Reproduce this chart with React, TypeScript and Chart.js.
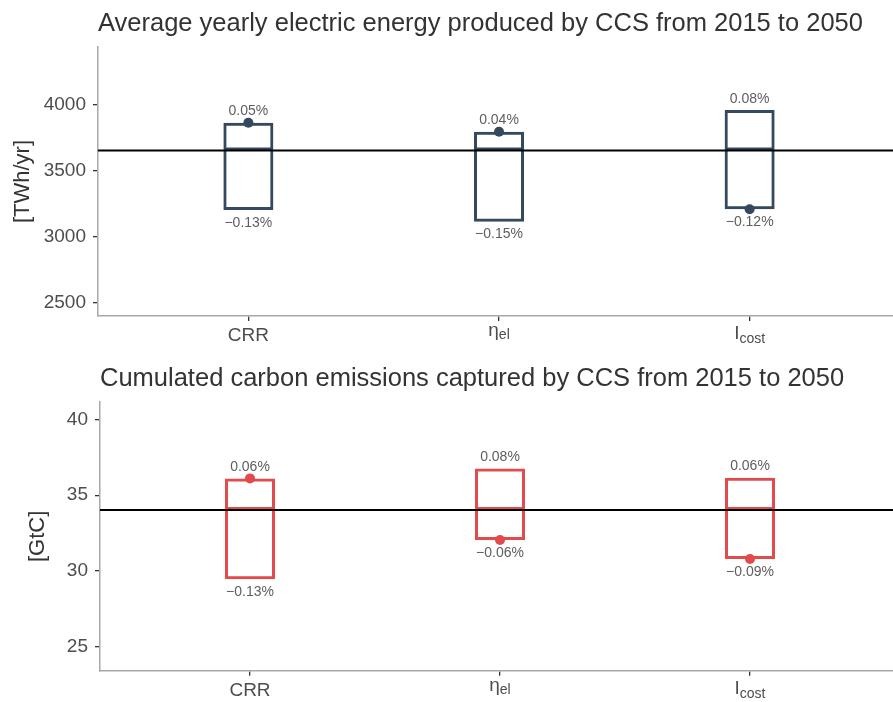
import React, { useEffect, useRef } from "react";
import { Chart, registerables } from "chart.js";

Chart.register(...registerables);

// ---------- data ----------
const X_POS = [1, 2, 3];
const LABEL_MAIN = ["CRR", "η", "I"];
const LABEL_SUB = ["", "el", "cost"];
const X_MIN = 0.4;
const X_MAX = 3.572;

const ENERGY_TITLE = "Average yearly electric energy produced by CCS from 2015 to 2050";
const ENERGY_UNIT = "[TWh/yr]";
const ENERGY_LOW = [3203, 3115, 3209];
const ENERGY_HIGH = [3866, 3797, 3962];
const ENERGY_POINT = [3866, 3797, 3209];
const ENERGY_REF = 3655;
const ENERGY_LOW_LABEL = ["−0.13%", "−0.15%", "−0.12%"];
const ENERGY_HIGH_LABEL = ["0.05%", "0.04%", "0.08%"];
const ENERGY_TICKS = [2500, 3000, 3500, 4000];
const ENERGY_MIN = 2400;
const ENERGY_MAX = 4440;

const CARBON_TITLE = "Cumulated carbon emissions captured by CCS from 2015 to 2050";
const CARBON_UNIT = "[GtC]";
const CARBON_LOW = [29.45, 32.04, 30.79];
const CARBON_HIGH = [36.11, 36.77, 36.15];
const CARBON_POINT = [36.11, 32.04, 30.79];
const CARBON_REF = 34.02;
const CARBON_LOW_LABEL = ["−0.13%", "−0.06%", "−0.09%"];
const CARBON_HIGH_LABEL = ["0.06%", "0.08%", "0.06%"];
const CARBON_TICKS = [25, 30, 35, 40];
const CARBON_MIN = 23.42;
const CARBON_MAX = 41.15;

const FONT = '"Liberation Sans", Arial, Helvetica, sans-serif';

type PanelProps = {
  title: string;
  unit: string;
  low: number[];
  high: number[];
  point: number[];
  refValue: number;
  lowLabels: string[];
  highLabels: string[];
  yTicks: number[];
  yMin: number;
  yMax: number;
  color: string;
  width: number;
  height: number;
  areaTop: number;
  xHeight: number;
  leftWidth: number;
  unitPad: number;
  titleBaseline: number;
  top: number;
};

function Panel(p: PanelProps) {
  const ref = useRef<HTMLCanvasElement | null>(null);
  useEffect(() => {
    if (!ref.current) return;
    const textPlugin = {
      id: "texts",
      afterDraw(chart: any) {
        const ctx = chart.ctx;
        const { left, bottom } = chart.chartArea;
        const xs = chart.scales.x;
        const ys = chart.scales.y;
        ctx.save();
        // title
        ctx.font = `25.5px ${FONT}`;
        ctx.fillStyle = "#333333";
        ctx.textAlign = "left";
        ctx.textBaseline = "alphabetic";
        ctx.fillText(p.title, left, p.titleBaseline);
        // percent labels
        ctx.font = `14px ${FONT}`;
        ctx.fillStyle = "#5e5e5e";
        ctx.textAlign = "center";
        X_POS.forEach((x, i) => {
          const px = xs.getPixelForValue(x);
          ctx.fillText(p.highLabels[i], px, ys.getPixelForValue(p.high[i]) - 7.5);
          ctx.fillText(p.lowLabels[i], px, ys.getPixelForValue(p.low[i]) + 16.5);
        });
        // x tick labels with subscripts
        const mainOff = [25, 20, 23];
        const subOff = [0, 3, 4];
        ctx.fillStyle = "#4d4d4d";
        ctx.textAlign = "left";
        X_POS.forEach((x, i) => {
          const px = xs.getPixelForValue(x);
          ctx.font = `19px ${FONT}`;
          const wMain = ctx.measureText(LABEL_MAIN[i]).width;
          ctx.font = `14px ${FONT}`;
          const wSub = LABEL_SUB[i] ? ctx.measureText(LABEL_SUB[i]).width : 0;
          const start = px - (wMain + wSub) / 2;
          const base = bottom + mainOff[i];
          ctx.font = `19px ${FONT}`;
          ctx.fillText(LABEL_MAIN[i], start, base);
          if (LABEL_SUB[i]) {
            ctx.font = `14px ${FONT}`;
            ctx.fillText(LABEL_SUB[i], start + wMain, base + subOff[i]);
          }
        });
        ctx.restore();
      },
    };

    const chart = new Chart(ref.current, {
      type: "bar",
      data: {
        datasets: [
          {
            type: "line",
            data: X_POS.map((x, i) => ({ x, y: p.point[i] })),
            showLine: false,
            pointRadius: 5,
            pointHoverRadius: 5,
            pointBackgroundColor: p.color,
            pointBorderWidth: 0,
            order: 0,
          } as any,
          {
            type: "line",
            data: [
              { x: X_MIN, y: p.refValue },
              { x: X_MAX, y: p.refValue },
            ],
            borderColor: "#000000",
            borderWidth: 2,
            pointRadius: 0,
            order: 1,
          } as any,
          {
            type: "bar",
            data: X_POS.map((x, i) => ({ x, y: [p.refValue, p.high[i]] })),
            borderColor: p.color,
            borderWidth: 3,
            backgroundColor: "rgba(0,0,0,0)",
            borderSkipped: false,
            barThickness: 50,
            grouped: false,
            inflateAmount: 0,
            order: 2,
          } as any,
          {
            type: "bar",
            data: X_POS.map((x, i) => ({ x, y: [p.low[i], p.refValue] })),
            borderColor: p.color,
            borderWidth: 3,
            backgroundColor: "rgba(0,0,0,0)",
            borderSkipped: "top",
            barThickness: 50,
            grouped: false,
            inflateAmount: 0,
            order: 3,
          } as any,
        ],
      },
      options: {
        responsive: false,
        animation: false,
        events: [],
        devicePixelRatio: 1,
        layout: { autoPadding: false, padding: { top: p.areaTop, right: 0, bottom: 0, left: 0 } },
        plugins: {
          legend: { display: false },
          tooltip: { enabled: false },
          title: { display: false },
        },
        scales: {
          x: {
            type: "linear",
            min: X_MIN,
            max: X_MAX,
            offset: false,
            afterBuildTicks: (s: any) => {
              s.ticks = X_POS.map((v) => ({ value: v }));
            },
            afterFit: (s: any) => {
              s.height = p.xHeight;
            },
            ticks: { callback: () => "", font: { family: FONT, size: 19 } },
            grid: {
              offset: false,
              drawOnChartArea: false,
              drawTicks: true,
              tickLength: 5,
              color: "#333333",
              lineWidth: 1.3,
            },
            border: { display: true, color: "#a8a8a8", width: 1.5 },
          } as any,
          y: {
            type: "linear",
            min: p.yMin,
            max: p.yMax,
            afterBuildTicks: (s: any) => {
              s.ticks = p.yTicks.map((v) => ({ value: v }));
            },
            afterFit: (s: any) => {
              s.width = p.leftWidth;
            },
            ticks: {
              color: "#4d4d4d",
              font: { family: FONT, size: 19 },
              padding: 7,
              callback: (v: any) => String(v),
            },
            grid: {
              drawOnChartArea: false,
              drawTicks: true,
              tickLength: 5,
              color: "#333333",
              lineWidth: 1.3,
            },
            border: { display: true, color: "#a8a8a8", width: 1.5 },
            title: {
              display: true,
              text: p.unit,
              color: "#333333",
              font: { family: FONT, size: 22 },
              padding: { top: p.unitPad, bottom: 0 },
            },
          } as any,
        },
      },
      plugins: [textPlugin],
    } as any);
    return () => chart.destroy();
  }, []);

  return (
    <canvas
      ref={ref}
      width={p.width}
      height={p.height}
      style={{ position: "absolute", left: 0, top: p.top, width: p.width, height: p.height }}
    />
  );
}

export default function App() {
  return (
    <div style={{ position: "absolute", left: 0, top: 0, width: 893, height: 702, background: "#ffffff" }}>
      <Panel
        title={ENERGY_TITLE}
        unit={ENERGY_UNIT}
        low={ENERGY_LOW}
        high={ENERGY_HIGH}
        point={ENERGY_POINT}
        refValue={ENERGY_REF}
        lowLabels={ENERGY_LOW_LABEL}
        highLabels={ENERGY_HIGH_LABEL}
        yTicks={ENERGY_TICKS}
        yMin={ENERGY_MIN}
        yMax={ENERGY_MAX}
        color="#34495e"
        width={893}
        height={352}
        areaTop={47}
        xHeight={36}
        leftWidth={98}
        unitPad={10}
        titleBaseline={31}
        top={0}
      />
      <Panel
        title={CARBON_TITLE}
        unit={CARBON_UNIT}
        low={CARBON_LOW}
        high={CARBON_HIGH}
        point={CARBON_POINT}
        refValue={CARBON_REF}
        lowLabels={CARBON_LOW_LABEL}
        highLabels={CARBON_HIGH_LABEL}
        yTicks={CARBON_TICKS}
        yMin={CARBON_MIN}
        yMax={CARBON_MAX}
        color="#e24a4b"
        width={893}
        height={350}
        areaTop={50}
        xHeight={31.3}
        leftWidth={100}
        unitPad={25}
        titleBaseline={34}
        top={352}
      />
    </div>
  );
}
